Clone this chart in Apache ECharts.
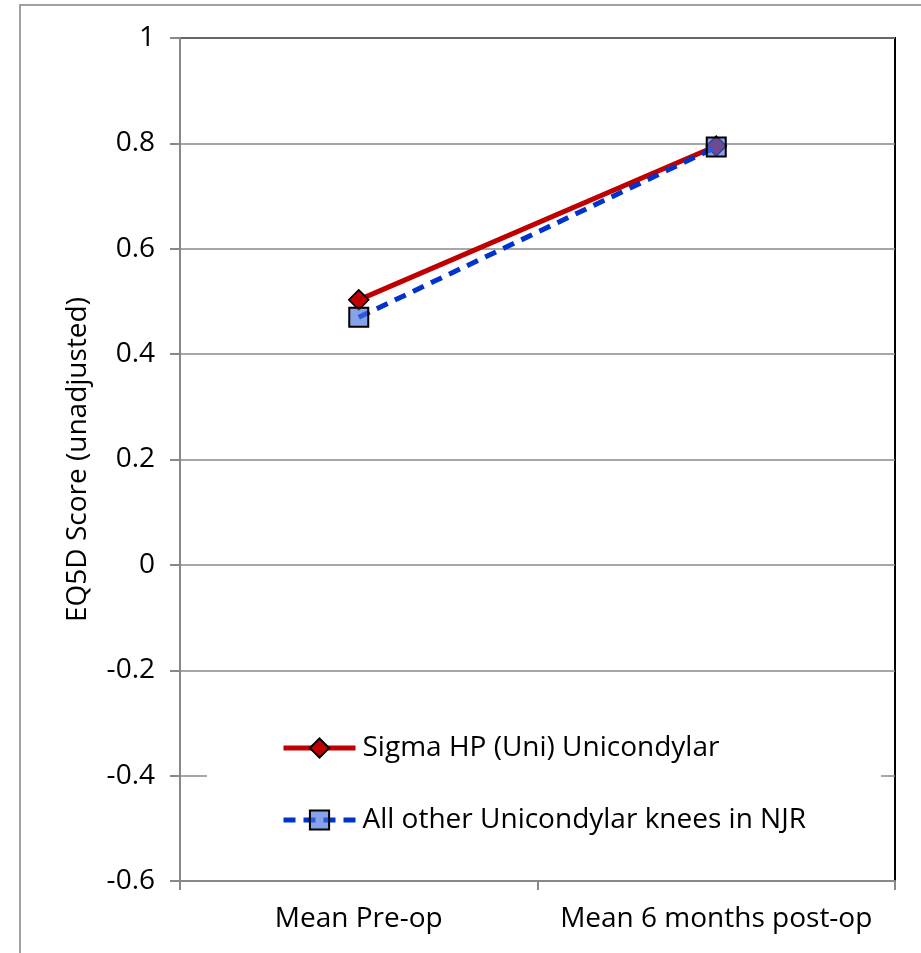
<!DOCTYPE html>
<html>
<head>
<meta charset="utf-8">
<script src="https://cdn.jsdelivr.net/npm/echarts@6/dist/echarts.min.js"></script>
<style>html,body{margin:0;padding:0;background:#fff}#c{width:921px;height:953px}</style>
</head>
<body>
<div id="c"></div>
<script>
const categories = ['Mean Pre-op', 'Mean 6 months post-op'];
const sigmaHP = [0.503, 0.795];
const allOther = [0.470, 0.793];
const seriesNames = ['Sigma HP (Uni) Unicondylar', 'All other Unicondylar knees in NJR'];
const yAxisName = 'EQ5D Score (unadjusted)';

const FONT = 'Open Sans';
const FS = 28;
const chart = echarts.init(document.getElementById('c'), null, {renderer: 'canvas'});
chart.setOption({
  animation: false,
  backgroundColor: '#fff',
  textStyle: {fontFamily: FONT},
  graphic: [{
    type: 'rect', left: 19, top: 4, z: -10,
    shape: {width: 1000, height: 1000},
    style: {fill: '#fff', stroke: '#a0a0a0', lineWidth: 2}
  }],
  grid: {left: 180, right: 26, top: 38, bottom: 72, show: true, borderColor: '#000', borderWidth: 2, backgroundColor: 'transparent'},
  legend: {
    orient: 'vertical',
    left: 207, top: 718,
    itemWidth: 72, itemHeight: 24,
    itemGap: 44,
    backgroundColor: '#fff',
    padding: [16, 75, 16, 74],
    lineStyle: {width: 5},
    textStyle: {fontFamily: FONT, fontSize: FS, color: '#000', padding: [0, 0, 0, 2]},
    data: seriesNames
  },
  xAxis: {
    type: 'category', data: categories, boundaryGap: true,
    axisLine: {onZero: false, lineStyle: {color: '#888', width: 2}},
    axisTick: {show: true, length: 9, inside: false, lineStyle: {color: '#888', width: 2}},
    axisLabel: {fontFamily: FONT, fontSize: FS, color: '#000', margin: 24, interval: 0, hideOverlap: false},
    splitLine: {show: false}
  },
  yAxis: {
    type: 'value', min: -0.6, max: 1, interval: 0.2,
    name: yAxisName, nameLocation: 'middle', nameGap: 88, nameRotate: 90,
    nameTextStyle: {fontFamily: FONT, fontSize: FS, color: '#000'},
    axisLine: {show: true, lineStyle: {color: '#888', width: 2}},
    axisTick: {show: true, length: 10, lineStyle: {color: '#888', width: 2}},
    axisLabel: {fontFamily: FONT, fontSize: FS, color: '#000', margin: 25,
      formatter: v => String(Number(v.toFixed(1)))},
    splitLine: {show: true, lineStyle: {color: '#888', width: 1.5}}
  },
  series: [
    {
      name: seriesNames[0], type: 'line', data: sigmaHP,
      symbol: 'diamond', symbolSize: 20,
      lineStyle: {color: '#C00000', width: 5},
      itemStyle: {color: '#C00000', borderColor: '#000', borderWidth: 1.5},
      z: 2
    },
    {
      name: seriesNames[1], type: 'line', data: allOther,
      symbol: 'rect', symbolSize: 19,
      lineStyle: {color: '#0033CC', width: 5, type: [12, 8]},
      itemStyle: {color: 'rgba(70,110,225,0.65)', borderColor: '#000', borderWidth: 2},
      z: 3
    }
  ]
});
</script>
</body>
</html>
